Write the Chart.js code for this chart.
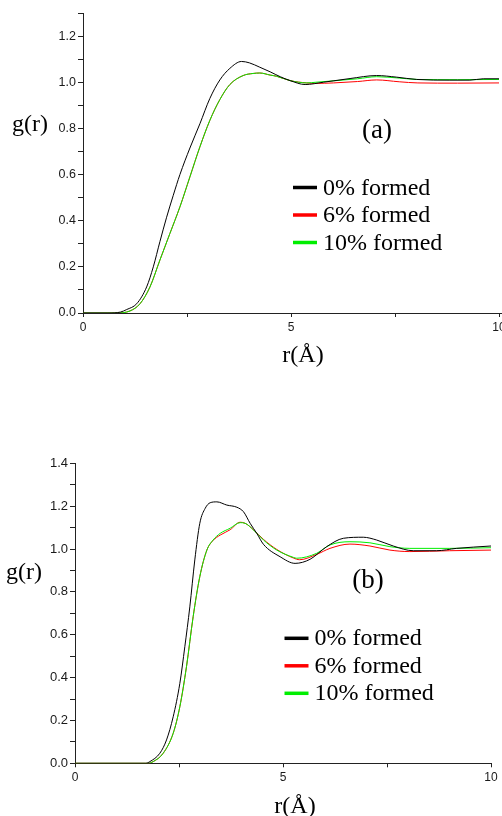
<!DOCTYPE html>
<html>
<head>
<meta charset="utf-8">
<script src="https://cdn.jsdelivr.net/npm/chart.js@4/dist/chart.umd.min.js"></script>
<style>
  html, body { margin: 0; padding: 0; background: #fff; overflow: hidden; width: 502px; height: 816px; }
  canvas { position: absolute; left: 0; }
  #c1 { top: 0; }
  #c2 { top: 410px; }
</style>
</head>
<body>
<canvas id="c1" width="520" height="410"></canvas>
<canvas id="c2" width="520" height="406"></canvas>
<script>
// ---------- DATA ----------
const seriesLabels = ['0% formed', '6% formed', '10% formed'];

// Panel (a)
const aR0  = [0, 0.6, 0.9, 1.05, 1.29, 1.53, 1.69, 1.85, 2.01, 2.17, 2.33, 2.57, 2.81, 3.05, 3.29, 3.53, 3.81, 4.0, 4.25, 4.5, 4.74, 4.98, 5.34, 5.78, 6.42, 7.06, 7.54, 8.02, 8.82, 9.3, 9.62, 10];
const aG0  = [0, 0, 0.004, 0.015, 0.04, 0.113, 0.2, 0.31, 0.415, 0.51, 0.6, 0.715, 0.82, 0.93, 1.01, 1.06, 1.09, 1.084, 1.065, 1.045, 1.024, 1.007, 0.99, 1.0, 1.016, 1.029, 1.022, 1.012, 1.009, 1.009, 1.015, 1.015];
const aR6  = [0, 0.8, 1.13, 1.37, 1.61, 1.85, 2.09, 2.33, 2.57, 2.81, 3.05, 3.29, 3.53, 3.85, 4.09, 4.25, 4.5, 4.65, 4.98, 5.38, 5.6, 6.02, 6.6, 7.06, 7.6, 8.05, 9.0, 10];
const aG6  = [0, 0, 0.009, 0.04, 0.113, 0.23, 0.345, 0.46, 0.59, 0.72, 0.835, 0.925, 0.99, 1.029, 1.038, 1.04, 1.031, 1.026, 1.007, 0.997, 0.995, 0.997, 1.003, 1.01, 1.002, 0.997, 0.996, 0.997];
const aR10 = [0, 0.8, 1.13, 1.37, 1.61, 1.85, 2.09, 2.33, 2.57, 2.81, 3.05, 3.29, 3.53, 3.85, 4.09, 4.25, 4.5, 4.65, 4.98, 5.38, 5.6, 6.02, 6.6, 7.06, 7.6, 8.05, 9.0, 10];
const aG10 = [0, 0, 0.009, 0.04, 0.113, 0.23, 0.345, 0.46, 0.59, 0.72, 0.835, 0.925, 0.99, 1.029, 1.038, 1.04, 1.031, 1.026, 1.007, 0.997, 1.0, 1.006, 1.015, 1.024, 1.018, 1.012, 1.011, 1.012];

// Panel (b)
const bR0  = [0, 1.7, 1.8, 2.04, 2.2, 2.36, 2.52, 2.64, 2.76, 2.88, 3.0, 3.13, 3.25, 3.41, 3.65, 3.89, 4.05, 4.21, 4.37, 4.53, 4.93, 5.29, 5.65, 6.05, 6.45, 6.93, 7.25, 7.65, 8.13, 8.69, 9.17, 10];
const bG0  = [0, 0, 0.008, 0.047, 0.109, 0.217, 0.373, 0.544, 0.73, 0.949, 1.12, 1.19, 1.216, 1.22, 1.205, 1.195, 1.174, 1.12, 1.073, 1.022, 0.964, 0.933, 0.952, 1.011, 1.05, 1.055, 1.042, 1.014, 0.992, 0.992, 1.003, 1.014];
const bR6  = [0, 1.75, 1.88, 2.12, 2.36, 2.52, 2.68, 2.84, 3.0, 3.17, 3.32, 3.49, 3.73, 3.97, 4.09, 4.29, 4.53, 4.85, 5.25, 5.4, 5.81, 6.13, 6.61, 7.09, 7.57, 8.05, 9.0, 10];
const bG6  = [0, 0, 0.008, 0.047, 0.14, 0.264, 0.451, 0.684, 0.871, 0.995, 1.04, 1.065, 1.09, 1.125, 1.12, 1.09, 1.045, 0.998, 0.958, 0.95, 0.975, 1.003, 1.023, 1.014, 0.995, 0.988, 0.992, 0.995];
const bR10 = [0, 1.75, 1.88, 2.12, 2.36, 2.52, 2.68, 2.84, 3.0, 3.17, 3.32, 3.49, 3.73, 3.97, 4.09, 4.29, 4.53, 4.85, 5.25, 5.33, 5.81, 6.13, 6.61, 7.09, 7.57, 8.05, 9.0, 10];
const bG10 = [0, 0, 0.008, 0.047, 0.14, 0.264, 0.451, 0.684, 0.871, 0.995, 1.042, 1.073, 1.097, 1.123, 1.12, 1.089, 1.042, 0.995, 0.961, 0.957, 0.98, 1.019, 1.034, 1.029, 1.011, 1.003, 1.003, 1.006];

const xTickValues = [0, 2.5, 5, 7.5, 10];
const xLabelValues = [0, 5, 10];

// ---------- HELPERS ----------
const colors = ['#000000', '#ff0000', '#00ee00'];
const orders = [0, 2, 1];

function pts(rs, gs) { return rs.map((r, i) => ({ x: r, y: gs[i] })); }

function buildDatasets(list) {
  return list.map((p, i) => ({
    label: seriesLabels[i],
    data: pts(p[0], p[1]),
    borderColor: colors[i],
    backgroundColor: colors[i],
    borderWidth: 1,
    pointRadius: 0,
    tension: 0.35,
    cubicInterpolationMode: 'monotone',
    order: orders[i],
    fill: false
  }));
}

const textPlugin = {
  id: 'panelText',
  afterDraw(chart, args, opts) {
    const ctx = chart.ctx;
    ctx.save();
    // x axis line continues to the canvas edge, as in the original figure
    if (opts.extendAxis) {
      const a = chart.chartArea;
      ctx.strokeStyle = '#222';
      ctx.lineWidth = 1;
      ctx.beginPath();
      ctx.moveTo(a.right, a.bottom + 0.5);
      ctx.lineTo(chart.width, a.bottom + 0.5);
      ctx.stroke();
    }
    ctx.fillStyle = '#000';
    (opts.items || []).forEach(t => {
      ctx.font = t.font;
      ctx.textAlign = t.align;
      ctx.textBaseline = 'alphabetic';
      ctx.fillText(t.text, t.x, t.y);
    });
    // legend
    const L = opts.legend;
    if (L) {
      chart.data.datasets.forEach((ds, i) => {
        const y = L.y + i * L.dy;
        ctx.strokeStyle = ds.borderColor;
        ctx.lineWidth = L.lineWidth;
        ctx.beginPath();
        ctx.moveTo(L.x, y);
        ctx.lineTo(L.x + L.len, y);
        ctx.stroke();
        ctx.fillStyle = '#000';
        ctx.font = L.font;
        ctx.textAlign = 'left';
        ctx.textBaseline = 'alphabetic';
        ctx.fillText(ds.label, L.x + L.len + L.gap, y + L.baseOff);
      });
    }
    ctx.restore();
  }
};

function makeChart(id, dsList, yMax, layoutPad, yWidth, xHeight, yFont, textItems, legend, extendAxis) {
  return new Chart(document.getElementById(id), {
    type: 'line',
    data: { datasets: buildDatasets(dsList) },
    plugins: [textPlugin],
    options: {
      responsive: false,
      animation: false,
      events: [],
      layout: { padding: layoutPad },
      plugins: {
        legend: { display: false },
        tooltip: { enabled: false },
        panelText: { items: textItems, legend: legend, extendAxis: extendAxis }
      },
      scales: {
        x: {
          type: 'linear', min: 0, max: 10,
          afterBuildTicks: s => { s.ticks = xTickValues.map(v => ({ value: v })); },
          afterFit: s => { s.height = xHeight; },
          ticks: {
            autoSkip: false, maxRotation: 0, padding: 3,
            color: '#1a1a1a',
            font: { family: 'Liberation Sans, Arial, sans-serif', size: 12 },
            callback: v => xLabelValues.includes(v) ? String(v) : ''
          },
          grid: { display: true, drawOnChartArea: false, drawTicks: true, tickLength: 4, color: '#222', tickColor: '#222', tickWidth: 1 },
          border: { display: true, color: '#222', width: 1 }
        },
        y: {
          type: 'linear', min: 0, max: yMax,
          afterFit: s => { s.width = yWidth; },
          ticks: {
            autoSkip: false, stepSize: 0.1, padding: 2,
            color: '#1a1a1a',
            font: { family: 'Liberation Sans, Arial, sans-serif', size: yFont },
            callback: v => { const k = Math.round(v * 10); return k % 2 === 0 ? (k / 10).toFixed(1) : ''; }
          },
          grid: { display: true, drawOnChartArea: false, drawTicks: true, tickLength: 5, color: '#222', tickColor: '#222', tickWidth: 1 },
          border: { display: true, color: '#222', width: 1 }
        }
      }
    }
  });
}

const serif = 'Liberation Serif, "Times New Roman", serif';

// Panel (a): chart area left 83, right 499, top 13, bottom 313
makeChart('c1',
  [[aR0, aG0], [aR6, aG6], [aR10, aG10]],
  1.3,
  { left: 0, top: 13, right: 21, bottom: 0 },
  83, 410 - 313, 12.5,
  [
    { text: 'g(r)', x: 12, y: 131, font: '24px ' + serif, align: 'left' },
    { text: 'r(\u00C5)', x: 303, y: 362, font: '24px ' + serif, align: 'center' },
    { text: '(a)', x: 377, y: 138, font: '27px ' + serif, align: 'center' }
  ],
  { x: 293, y: 187.5, dy: 27.5, len: 24, gap: 6, lineWidth: 3.5, baseOff: 7, font: '24px ' + serif },
  true
);

// Panel (b): canvas top 410; chart area left 75, right 491, top 463.3, bottom 763.3
makeChart('c2',
  [[bR0, bG0], [bR6, bG6], [bR10, bG10]],
  1.4,
  { left: 0, top: 53.3, right: 29, bottom: 0 },
  75, 406 - 353.3, 13,
  [
    { text: 'g(r)', x: 6, y: 579 - 410, font: '24px ' + serif, align: 'left' },
    { text: 'r(\u00C5)', x: 295, y: 812.5 - 410, font: '24px ' + serif, align: 'center' },
    { text: '(b)', x: 368, y: 588 - 410, font: '27px ' + serif, align: 'center' }
  ],
  { x: 284.5, y: 638.3 - 410, dy: 27.5, len: 24, gap: 6, lineWidth: 3.5, baseOff: 7, font: '24px ' + serif },
  false
);
</script>
</body>
</html>
